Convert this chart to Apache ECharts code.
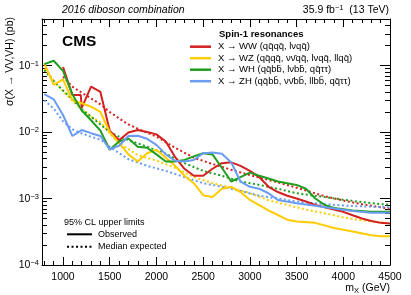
<!DOCTYPE html>
<html><head><meta charset="utf-8">
<script src="https://cdn.jsdelivr.net/npm/echarts@6/dist/echarts.min.js"></script>
<style>html,body{margin:0;padding:0;background:#fff}#c{width:411px;height:295px}</style>
</head><body><div id="c"></div>
<script>
// ---- data (mass in GeV, limit in pb) ----
const wwObs = [[1000,0.095],[1100,0.036],[1190,0.036],[1200,0.023],[1300,0.048],[1400,0.040],[1500,0.0105],[1600,0.0075],[1700,0.0098],[1800,0.0107],[1900,0.010],[2000,0.0092],[2100,0.0072],[2200,0.0042],[2300,0.0028],[2400,0.0022],[2500,0.0022],[2600,0.0028],[2700,0.0034],[2800,0.0035],[2900,0.0031],[3000,0.0026],[3100,0.0021],[3200,0.0015],[3300,0.00125],[3400,0.0011],[3500,0.001],[3600,0.0009],[3700,0.0008],[3800,0.00074],[3900,0.00068],[4000,0.00063],[4100,0.00056],[4200,0.0005],[4300,0.00046],[4400,0.00043],[4500,0.00042]];
const wwExp = [[1000,0.068],[1100,0.048],[1200,0.039],[1300,0.032],[1400,0.026],[1500,0.020],[1600,0.016],[1700,0.013],[1800,0.0112],[2000,0.0085],[2200,0.0058],[2400,0.0041],[2600,0.0033],[2800,0.0027],[3000,0.00225],[3200,0.0019],[3400,0.0016],[3600,0.00132],[3800,0.00108],[4000,0.00093],[4200,0.00082],[4500,0.0007]];
const wzObs = [[800,0.108],[900,0.051],[1000,0.062],[1100,0.030],[1200,0.027],[1300,0.024],[1400,0.020],[1500,0.010],[1600,0.0068],[1700,0.0046],[1800,0.0036],[1900,0.0048],[2000,0.0054],[2100,0.0041],[2200,0.0031],[2300,0.0022],[2400,0.0017],[2500,0.00112],[2600,0.00105],[2700,0.0014],[2800,0.0015],[2900,0.00125],[3000,0.00095],[3200,0.00066],[3400,0.00048],[3500,0.00045],[3700,0.00043],[3900,0.00036],[4100,0.00032],[4300,0.00028],[4400,0.00027],[4500,0.00027]];
const wzExp = [[800,0.09],[900,0.06],[1000,0.041],[1100,0.03],[1200,0.022],[1300,0.017],[1400,0.014],[1500,0.0095],[1600,0.0068],[1800,0.0045],[2000,0.0037],[2200,0.0029],[2400,0.0021],[2600,0.0017],[2800,0.00145],[3000,0.0012],[3200,0.00094],[3400,0.0008],[3600,0.00068],[3800,0.0006],[4000,0.00052],[4200,0.00047],[4500,0.00042]];
const whObs = [[800,0.105],[900,0.118],[1000,0.083],[1100,0.037],[1200,0.021],[1300,0.015],[1400,0.0105],[1500,0.0054],[1600,0.0072],[1700,0.008],[1800,0.006],[1900,0.0058],[2000,0.0046],[2100,0.0036],[2200,0.0036],[2300,0.0038],[2400,0.0043],[2500,0.0048],[2600,0.0046],[2700,0.0029],[2800,0.0018],[2900,0.0021],[3000,0.00245],[3100,0.0022],[3200,0.002],[3300,0.0018],[3500,0.0016],[3600,0.0014],[3700,0.001],[3800,0.0008],[3900,0.00072],[4100,0.00066],[4300,0.00063],[4500,0.00063]];
const whExp = [[800,0.085],[900,0.058],[1000,0.042],[1100,0.031],[1200,0.022],[1300,0.017],[1400,0.013],[1500,0.010],[1600,0.0085],[1700,0.0076],[1900,0.006],[2100,0.0047],[2300,0.0034],[2500,0.0026],[2700,0.0022],[2900,0.0018],[3100,0.0016],[3300,0.0014],[3500,0.0012],[3800,0.00105],[4100,0.00092],[4300,0.00085],[4500,0.0008]];
const zhObs = [[800,0.037],[900,0.031],[1000,0.018],[1100,0.0087],[1200,0.0107],[1300,0.0096],[1400,0.0087],[1500,0.0055],[1600,0.0062],[1700,0.0087],[1800,0.0088],[1900,0.0079],[2000,0.0064],[2100,0.0046],[2200,0.0037],[2300,0.0036],[2400,0.0038],[2500,0.0048],[2600,0.0049],[2700,0.0047],[2800,0.0035],[2900,0.0018],[3000,0.0015],[3100,0.0014],[3200,0.0012],[3300,0.00095],[3500,0.00085],[3700,0.00078],[3900,0.00071],[4100,0.00065],[4300,0.00061],[4500,0.00061]];
const zhExp = [[800,0.03],[900,0.0225],[1000,0.0145],[1100,0.011],[1200,0.0095],[1300,0.0085],[1400,0.0077],[1500,0.006],[1600,0.0048],[1700,0.0039],[1900,0.0031],[2100,0.0026],[2300,0.0021],[2500,0.0017],[2700,0.0015],[2900,0.0013],[3100,0.0011],[3300,0.001],[3500,0.0009],[3800,0.00082],[4100,0.00077],[4500,0.00074]];

const seriesNames = ['X \u2192 WW (qq\u0304qq\u0304, l\u03BDqq\u0304)',
  'X \u2192 WZ (qq\u0304qq\u0304, \u03BD\u03BD\u0304qq\u0304, l\u03BDqq\u0304, llqq\u0304)',
  'X \u2192 WH (qq\u0304bb\u0304, l\u03BDbb\u0304, qq\u0304\u03C4\u03C4)',
  'X \u2192 ZH (qq\u0304bb\u0304, \u03BD\u03BD\u0304bb\u0304, llbb\u0304, qq\u0304\u03C4\u03C4)'];
const colors = ['#d42020', '#ffcc00', '#1f9e1f', '#6b9cf5'];

const xMajorTicks = [1000,1500,2000,2500,3000,3500,4000,4500];
const xMinorTicks = []; for (let m = 800; m <= 4500; m += 100) xMinorTicks.push(m);
const yMajorTicks = [1e-4,1e-3,1e-2,1e-1];
const yMinorTicks = []; [1e-4,1e-3,1e-2,1e-1].forEach(d => { for (let k = 2; k <= 9; k++) if (k*d <= 0.5) yMinorTicks.push(+(k*d).toPrecision(3)); });

const FONT = 'Liberation Sans, Arial, sans-serif';
const XMIN = 775, XMAX = 4500, YMIN = 1e-4, YMAX = 0.5;

function xAxisDef(pos, major, labels) {
  return { type: 'value', position: pos, min: XMIN, max: XMAX,
    axisLine: { show: major, onZero: false, lineStyle: { color: '#000', width: 1 } },
    axisTick: { show: true, inside: true, length: major ? 8 : 4, customValues: major ? xMajorTicks : xMinorTicks, lineStyle: { color: '#000' } },
    axisLabel: { show: labels, customValues: xMajorTicks, margin: 7, fontSize: 10.5, fontFamily: FONT, color: '#000', formatter: v => String(v) },
    splitLine: { show: false } };
}
function yAxisDef(pos, major, labels) {
  return { type: 'log', logBase: 10, position: pos, min: YMIN, max: YMAX,
    axisLine: { show: major, onZero: false, lineStyle: { color: '#000', width: 1 } },
    axisTick: { show: true, inside: true, length: major ? 10 : 5, customValues: major ? yMajorTicks : yMinorTicks, lineStyle: { color: '#000' } },
    axisLabel: { show: labels, customValues: yMajorTicks, margin: 3, fontFamily: FONT, color: '#000',
      formatter: v => { const l = Math.log10(v), e = Math.round(l); if (Math.abs(l - e) > 1e-6) return ''; return '{b|10}{s|' + (e < 0 ? '\u2212' : '') + Math.abs(e) + '}'; },
      rich: { b: { fontSize: 10.5, lineHeight: 12, verticalAlign: 'bottom', fontFamily: FONT }, s: { fontSize: 7.5, lineHeight: 12, verticalAlign: 'top', fontFamily: FONT } } },
    splitLine: { show: false } };
}

const obs = [wwObs, wzObs, whObs, zhObs], exp = [wwExp, wzExp, whExp, zhExp];
const series = [];
for (let i = 0; i < 4; i++) {
  series.push({ name: seriesNames[i] + ' exp', type: 'line', data: exp[i], showSymbol: false, symbol: 'none', z: 2,
    lineStyle: { color: colors[i], width: 2, type: [2, 2.5] }, itemStyle: { color: colors[i] } });
}
for (let i = 0; i < 4; i++) {
  series.push({ name: seriesNames[i], type: 'line', data: obs[i], showSymbol: false, symbol: 'none', z: 3,
    lineStyle: { color: colors[i], width: 2 }, itemStyle: { color: colors[i] } });
}

const chart = echarts.init(document.getElementById('c'), null, { renderer: 'canvas' });
chart.setOption({
  animation: false,
  backgroundColor: '#fff',
  grid: { left: 42, right: 21, top: 19, bottom: 30, containLabel: false },
  xAxis: [xAxisDef('bottom', true, true), xAxisDef('bottom', false, false), xAxisDef('top', true, false), xAxisDef('top', false, false)],
  yAxis: [yAxisDef('left', true, true), yAxisDef('left', false, false), yAxisDef('right', true, false), yAxisDef('right', false, false)],
  legend: { data: seriesNames, left: 190, top: 41.7, padding: 0, orient: 'vertical', icon: 'rect', itemWidth: 21, itemHeight: 2.5, itemGap: 1.5,
    selectedMode: false, textStyle: { fontSize: 9.5, lineHeight: 10, fontFamily: FONT, color: '#000', padding: [0, 0, 0, 2] } },
  series: series,
  graphic: [
    { type: 'text', x: 62, y: 10, style: { text: '2016 diboson combination', font: 'italic 10.5px ' + FONT, fill: '#000', verticalAlign: 'middle' } },
    { type: 'text', x: 389, y: 10, style: { text: '35.9 fb{s|\u22121}  (13 TeV)', font: '10.5px ' + FONT, fill: '#000', align: 'right', verticalAlign: 'middle',
        rich: { s: { fontSize: 7.5, verticalAlign: 'top', fontFamily: FONT, padding: [0, 0, 5, 0] } } } },
    { type: 'text', x: 62, y: 42, style: { text: 'CMS', font: 'bold 15.5px ' + FONT, fill: '#000', verticalAlign: 'middle' } },
    { type: 'text', x: 219, y: 34.5, style: { text: 'Spin-1 resonances', font: 'bold 9.5px ' + FONT, fill: '#000', verticalAlign: 'middle' } },
    { type: 'text', x: 10, y: 17, rotation: Math.PI / 2, style: { text: '\u03C3(X \u2192 VV,VH) (pb)', font: '10.5px ' + FONT, fill: '#000', align: 'right', verticalAlign: 'middle' } },
    { type: 'text', x: 390, y: 288, style: { text: 'm{s|X} (GeV)', font: '10.5px ' + FONT, fill: '#000', align: 'right', verticalAlign: 'middle',
        rich: { s: { fontSize: 7.5, fontFamily: FONT, padding: [5, 0, 0, 0] } } } },
    { type: 'text', x: 64, y: 223, style: { text: '95% CL upper limits', font: '9px ' + FONT, fill: '#000', verticalAlign: 'middle' } },
    { type: 'line', shape: { x1: 67, y1: 234.3, x2: 92, y2: 234.3 }, style: { stroke: '#000', lineWidth: 2 } },
    { type: 'text', x: 98, y: 234.3, style: { text: 'Observed', font: '9px ' + FONT, fill: '#000', verticalAlign: 'middle' } },
    { type: 'line', shape: { x1: 67, y1: 246.7, x2: 92, y2: 246.7 }, style: { stroke: '#000', lineWidth: 2, lineDash: [2, 2.5] } },
    { type: 'text', x: 98, y: 246.7, style: { text: 'Median expected', font: '9px ' + FONT, fill: '#000', verticalAlign: 'middle' } }
  ]
});
</script></body></html>
